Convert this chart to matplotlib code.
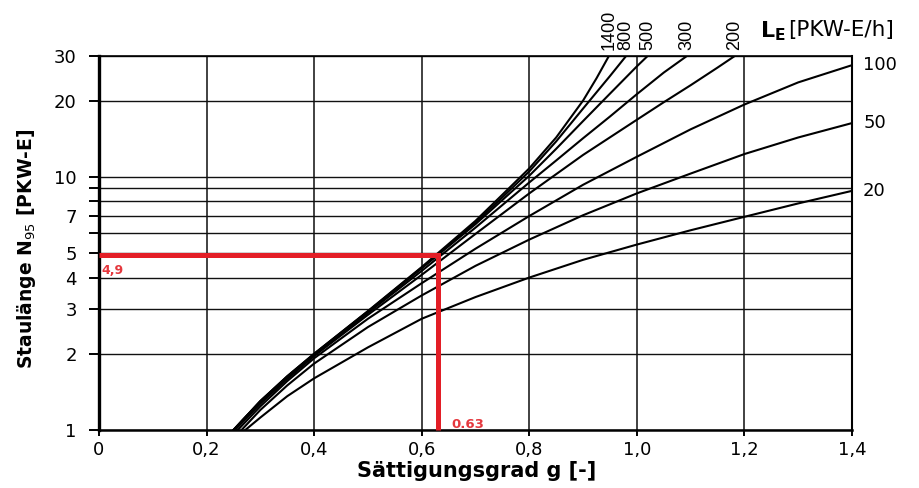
import matplotlib
matplotlib.use('Agg')
import matplotlib.pyplot as plt
from matplotlib.ticker import FixedLocator, FixedFormatter, NullLocator

# ---------------- data ----------------
# Saettigungsgrad g  ->  Staulaenge N95 for each L_E [PKW-E/h]
g_1400 = [0.250, 0.30, 0.35, 0.40, 0.50, 0.60, 0.70, 0.75, 0.80, 0.85, 0.90, 0.925, 0.948]
n_1400 = [1.0, 1.30, 1.63, 2.00, 2.95, 4.40, 6.70, 8.5, 10.8, 14.3, 20.0, 24.5, 30.0]

g_800 = [0.250, 0.30, 0.35, 0.40, 0.50, 0.60, 0.70, 0.75, 0.80, 0.85, 0.90, 0.95, 0.980]
n_800 = [1.0, 1.30, 1.63, 2.00, 2.94, 4.38, 6.60, 8.3, 10.5, 13.8, 18.6, 25.0, 30.0]

g_500 = [0.250, 0.30, 0.35, 0.40, 0.50, 0.60, 0.70, 0.75, 0.80, 0.85, 0.90, 0.95, 1.00, 1.020]
n_500 = [1.0, 1.30, 1.62, 1.99, 2.93, 4.35, 6.50, 8.1, 10.1, 12.9, 16.6, 21.3, 27.3, 30.0]

g_300 = [0.250, 0.30, 0.35, 0.40, 0.50, 0.60, 0.70, 0.80, 0.85, 0.90, 0.95, 1.00, 1.05, 1.093]
n_300 = [1.0, 1.29, 1.61, 1.98, 2.90, 4.25, 6.30, 9.5, 11.6, 14.2, 17.3, 21.2, 25.8, 30.0]

g_200 = [0.253, 0.30, 0.35, 0.40, 0.50, 0.60, 0.70, 0.80, 0.90, 1.00, 1.05, 1.10, 1.15, 1.182]
n_200 = [1.0, 1.27, 1.59, 1.96, 2.85, 4.10, 5.95, 8.6, 12.2, 16.8, 19.7, 23.0, 27.0, 30.0]

g_100 = [0.258, 0.30, 0.35, 0.40, 0.50, 0.60, 0.70, 0.80, 0.90, 1.00, 1.10, 1.20, 1.30, 1.40]
n_100 = [1.0, 1.24, 1.56, 1.92, 2.75, 3.80, 5.20, 7.0, 9.3, 12.0, 15.4, 19.3, 23.6, 27.6]

g_50 = [0.265, 0.30, 0.35, 0.40, 0.50, 0.60, 0.70, 0.80, 0.90, 1.00, 1.10, 1.20, 1.30, 1.40]
n_50 = [1.0, 1.20, 1.50, 1.83, 2.55, 3.40, 4.45, 5.65, 7.05, 8.6, 10.3, 12.3, 14.3, 16.3]

g_20 = [0.272, 0.30, 0.35, 0.40, 0.50, 0.60, 0.70, 0.80, 0.90, 1.00, 1.10, 1.20, 1.30, 1.40]
n_20 = [1.0, 1.12, 1.36, 1.60, 2.12, 2.75, 3.35, 4.0, 4.7, 5.4, 6.15, 6.95, 7.85, 8.8]

top_curves = [('1400', g_1400, n_1400), ('800', g_800, n_800), ('500', g_500, n_500),
              ('300', g_300, n_300), ('200', g_200, n_200)]
side_curves = [('100', g_100, n_100), ('50', g_50, n_50), ('20', g_20, n_20)]

x_ticks = [0, 0.2, 0.4, 0.6, 0.8, 1.0, 1.2, 1.4]
x_tick_labels = ['0', '0,2', '0,4', '0,6', '0,8', '1,0', '1,2', '1,4']
y_ticks = [1, 2, 3, 4, 5, 6, 7, 8, 9, 10, 20, 30]
y_tick_labels = ['1', '2', '3', '4', '5', '', '7', '', '', '10', '20', '30']

# read-off example
g_mark = 0.63
n_mark = 4.9
g_mark_text = '0.63'
n_mark_text = '4,9'

# ---------------- figure ----------------
plt.rcParams['font.family'] = 'DejaVu Sans'
red = '#e31e26'

fig = plt.figure(figsize=(9.2, 4.88), dpi=100)
ax = fig.add_axes([99 / 920, 1 - 430 / 488, 753 / 920, 374 / 488])

ax.set_yscale('log')
ax.set_xlim(0, 1.4)
ax.set_ylim(1, 30)

ax.yaxis.set_major_locator(FixedLocator(y_ticks))
ax.yaxis.set_major_formatter(FixedFormatter(y_tick_labels))
ax.yaxis.set_minor_locator(NullLocator())
ax.set_xticks(x_ticks, x_tick_labels)

ax.grid(True, axis='y', color='#111111', lw=1.0, zorder=1)
ax.grid(True, axis='x', color='#333333', lw=1.3, zorder=1)

ax.tick_params(axis='y', direction='out', length=7, width=1.4, pad=9, labelsize=13)
ax.tick_params(axis='x', direction='out', length=4, width=1.4, pad=4, labelsize=13)

ax.spines['left'].set_linewidth(2.4)
ax.spines['bottom'].set_linewidth(1.8)
ax.spines['right'].set_linewidth(1.5)
ax.spines['top'].set_linewidth(1.2)

# curves
for lab, g, n in top_curves + side_curves:
    ax.plot(g, n, color='black', lw=1.5, zorder=3)

# labels of the curves
for lab, g, n in top_curves:
    ax.annotate(lab, xy=(g[-1], n[-1]), xytext=(0, 4), textcoords='offset points',
                rotation=90, ha='center', va='bottom', fontsize=13,
                family='Liberation Sans', annotation_clip=False)
for lab, g, n in side_curves:
    ax.annotate(lab, xy=(g[-1], n[-1]), xytext=(8, 0), textcoords='offset points',
                ha='left', va='center', fontsize=13, annotation_clip=False)

fig.text(760 / 920, 1 - 31 / 488, r'$\mathbf{L_E}$', fontsize=16,
         ha='left', va='center')
fig.text(788 / 920, 1 - 30 / 488, '[PKW-E/h]', fontsize=15.5,
         ha='left', va='center')

# red read-off lines
ax.plot([0, g_mark, g_mark], [n_mark, n_mark, 1], color=red, lw=3.6,
        solid_joinstyle='miter', solid_capstyle='butt', clip_on=False, zorder=4)
ax.text(0.004, 4.25, n_mark_text, color='#e5383e', fontsize=9, fontweight='bold',
        ha='left', va='center', zorder=5)
ax.text(0.655, 1.055, g_mark_text, color='#e5383e', fontsize=9.5, fontweight='bold',
        ha='left', va='center', zorder=5)

# axis titles
fig.text(27 / 920, 1 - 249 / 488, r'Staulänge N$_{95}$ [PKW-E]', rotation=90,
         fontsize=13.5, fontweight='bold', ha='center', va='center')
fig.text(477 / 920, 1 - 471 / 488, 'Sättigungsgrad g [-]', fontsize=15,
         fontweight='bold', ha='center', va='center')

fig.savefig('out.png', dpi=100)
